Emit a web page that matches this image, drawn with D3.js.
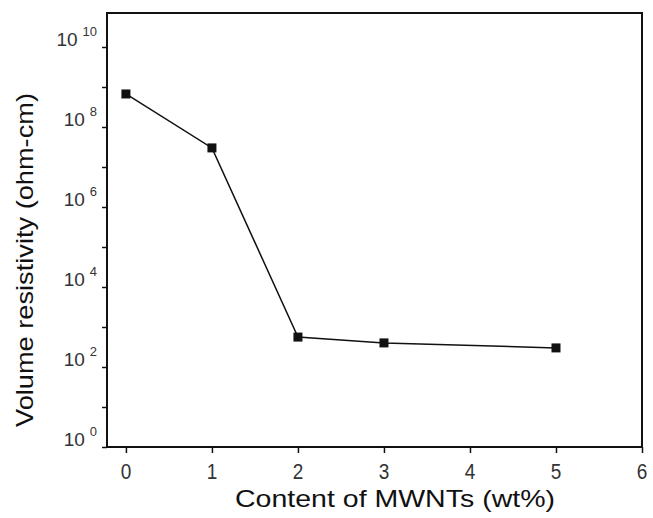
<!DOCTYPE html>
<html>
<head>
<meta charset="utf-8">
<script src="https://cdn.jsdelivr.net/npm/d3@7/dist/d3.min.js"></script>
<style>
  body { margin: 0; background: #fff; }
  svg { display: block; font-family: "Liberation Sans", Arial, sans-serif; }
</style>
</head>
<body>
<svg id="chart" width="653" height="518"></svg>
<script>
// MWNT content (wt%) vs volume resistivity (ohm-cm)
const content = [0, 1, 2, 3, 5];
const resistivity = [6.7e8, 3.0e7, 560, 400, 300];
const xTicks = [0, 1, 2, 3, 4, 5, 6];
const yLabelExp = [0, 2, 4, 6, 8, 10];

const svg = d3.select('#chart');
const margin = { top: 13, right: 11, bottom: 71, left: 107 };
const width = 653 - margin.left - margin.right;
const height = 518 - margin.top - margin.bottom;

const x = d3.scaleLinear().domain([-0.22, 6]).range([0, width]);
const y = d3.scaleLog().domain([1, Math.pow(10, 10.85)]).range([height, 0]);

const g = svg.append('g')
  .attr('transform', `translate(${margin.left},${margin.top})`);

// frame
g.append('rect')
  .attr('width', width)
  .attr('height', height)
  .attr('fill', 'none')
  .attr('stroke', '#111')
  .attr('stroke-width', 2);

// x axis ticks (major + half steps)
const xAxis = g.append('g').attr('transform', `translate(0,${height})`);
xAxis.call(d3.axisBottom(x).tickValues(d3.range(0.5, 6, 1)).tickSize(3).tickFormat(''));
xAxis.call(d3.axisBottom(x).tickValues(xTicks).tickSize(6).tickFormat(''));
xAxis.selectAll('.domain').remove();
xAxis.selectAll('line').attr('stroke', '#111').attr('stroke-width', 1.5);

g.selectAll('.xlab')
  .data(xTicks)
  .enter().append('text')
  .attr('class', 'xlab')
  .attr('transform', d => `translate(${x(d)},${height + 32}) scale(1,1.2)`)
  .attr('text-anchor', 'middle')
  .attr('font-size', 19)
  .attr('fill', '#333')
  .text(d => d);

// y axis ticks every decade
const decades = d3.range(0, 11).map(e => Math.pow(10, e));
const yAxis = g.append('g');
yAxis.call(d3.axisLeft(y).tickValues(decades).tickSize(5).tickFormat(''));
yAxis.selectAll('.domain').remove();
yAxis.selectAll('line').attr('stroke', '#111').attr('stroke-width', 1.5);

const ylab = g.selectAll('.ylab')
  .data(yLabelExp)
  .enter().append('text')
  .attr('class', 'ylab')
  .attr('x', -10)
  .attr('y', d => y(Math.pow(10, d)) - 1)
  .attr('text-anchor', 'end')
  .attr('fill', '#333')
  .attr('font-size', 19);
ylab.append('tspan').text('10');
ylab.append('tspan')
  .attr('dx', 5)
  .attr('dy', -10)
  .attr('font-size', 13)
  .text(d => d);

// data line + markers
const line = d3.line()
  .x((d, i) => x(content[i]))
  .y(d => y(d));

g.append('path')
  .datum(resistivity)
  .attr('d', line)
  .attr('fill', 'none')
  .attr('stroke', '#111')
  .attr('stroke-width', 1.5);

g.selectAll('.pt')
  .data(resistivity)
  .enter().append('rect')
  .attr('class', 'pt')
  .attr('x', (d, i) => x(content[i]) - 4.5)
  .attr('y', d => y(d) - 4.5)
  .attr('width', 9)
  .attr('height', 9)
  .attr('fill', '#111');

// axis titles
svg.append('text')
  .attr('x', 395)
  .attr('y', 507)
  .attr('text-anchor', 'middle')
  .attr('font-size', 24)
  .attr('textLength', 320)
  .attr('lengthAdjust', 'spacingAndGlyphs')
  .attr('fill', '#111')
  .text('Content of MWNTs (wt%)');

svg.append('text')
  .attr('transform', 'translate(33,260) rotate(-90)')
  .attr('text-anchor', 'middle')
  .attr('font-size', 24)
  .attr('textLength', 334)
  .attr('lengthAdjust', 'spacingAndGlyphs')
  .attr('fill', '#111')
  .text('Volume resistivity (ohm-cm)');
</script>
</body>
</html>
